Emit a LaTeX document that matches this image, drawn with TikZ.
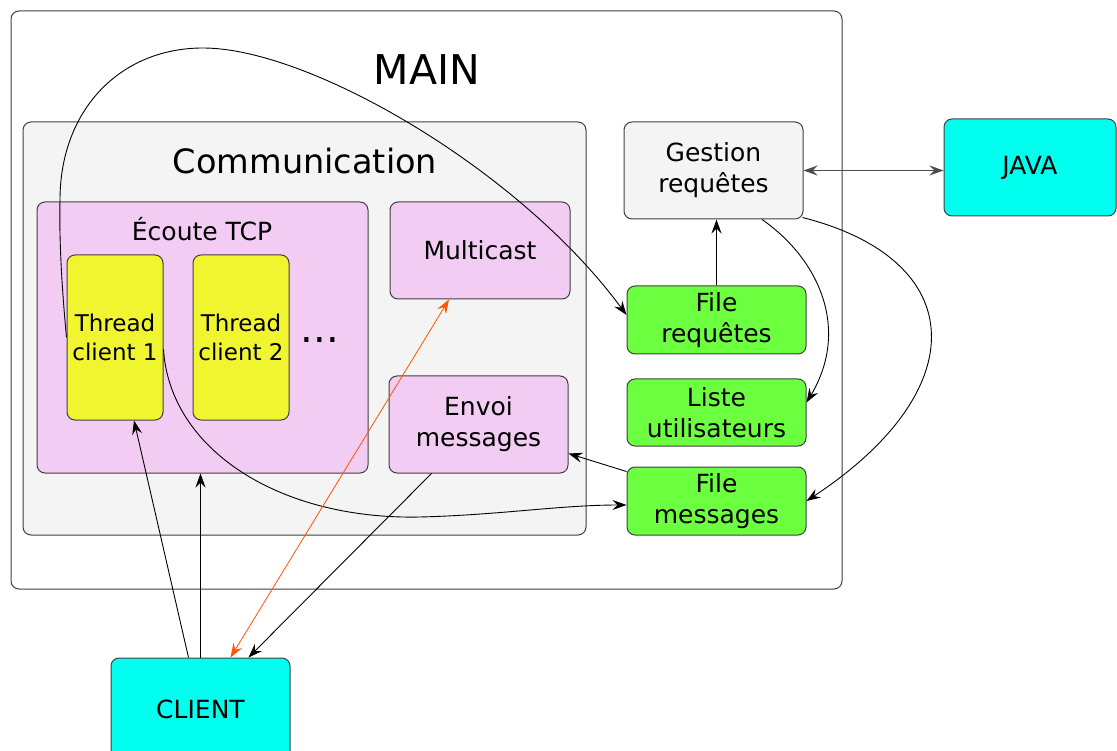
\documentclass[tikz,border=0pt]{standalone}
\usepackage{fontspec}
\setmainfont{DejaVu Sans}
\usetikzlibrary{arrows.meta,calc}

\definecolor{grisfond}{RGB}{244,244,244}
\definecolor{rose}{RGB}{243,204,243}
\definecolor{jaune}{RGB}{240,245,48}
\definecolor{vert}{RGB}{108,255,64}
\definecolor{cyan}{RGB}{0,255,238}
\definecolor{orange}{RGB}{255,85,0}

\tikzset{
  bloc/.style={draw=black!75, line width=1pt, rounded corners=8pt, inner sep=0pt,
    align=center, font=\fontsize{25}{31}\selectfont},
  titre/.style={inner sep=0pt, font=\fontsize{#1}{#1}\selectfont},
  fleche/.style={-{Stealth[length=14pt,width=10pt,inset=5pt]}, line width=0.9pt},
  double fleche/.style={{Stealth[length=14pt,width=10pt,inset=5pt]}-{Stealth[length=14pt,width=10pt,inset=5pt]}, line width=0.9pt}
}

\begin{document}
\begin{tikzpicture}[x=1pt,y=-1pt]

% ---------- Cadre ----------
\useasboundingbox (0,0) rectangle (1117,751);
\clip (0,0) rectangle (1117,751);

% ---------- Conteneurs ----------
\node[bloc, fill=white, minimum width=831, minimum height=578] (main) at (426.5,300) {};
\node[titre=41] (lmain) at (427,70) {MAIN};

\node[bloc, fill=grisfond, minimum width=563, minimum height=413] (comm) at (304.5,328.5) {};
\node[titre=33.5] (lcomm) at (305,161) {Communication};

\node[bloc, fill=rose, minimum width=331, minimum height=271] (tcp) at (202.5,337.5) {};
\node[titre=25] (ltcp) at (202,229) {Écoute TCP};

% ---------- Threads ----------
\node[bloc, fill=jaune, minimum width=96, minimum height=165, font=\fontsize{23}{29}\selectfont] (t1) at (115,337.5) {Thread\\client 1};
\node[bloc, fill=jaune, minimum width=96, minimum height=165, font=\fontsize{23}{29}\selectfont] (t2) at (241,337.5) {Thread\\client 2};
\node[titre=40] (dots) at (320,340) {...};

% ---------- Modules ----------
\node[bloc, fill=rose, minimum width=180, minimum height=97] (mcast) at (480,250.5) {Multicast};
\node[bloc, fill=rose, minimum width=179, minimum height=97] (envoi) at (478.5,424.5) {Envoi\\messages};

\node[bloc, fill=grisfond, minimum width=179, minimum height=97] (gest) at (713.5,170.5) {Gestion\\requêtes};
\node[bloc, fill=vert, minimum width=179, minimum height=68] (freq) at (716.5,320) {File\\requêtes};
\node[bloc, fill=vert, minimum width=179, minimum height=67] (liste) at (716.5,412.5) {Liste\\utilisateurs};
\node[bloc, fill=vert, minimum width=179, minimum height=68] (fmsg) at (716.5,501) {File\\messages};

% ---------- Externes ----------
\node[bloc, fill=cyan, minimum width=172, minimum height=97] (java) at (1030,167.5) {JAVA};
\node[bloc, fill=cyan, minimum width=179, minimum height=102] (client) at (200.5,709) {CLIENT};

% ---------- Liaisons ----------
\draw[double fleche, draw=black!70, line width=1.3pt] (gest.east) -- (gest.east -| java.west);
\draw[fleche] (freq.north) -- (freq.north |- gest.south);
\draw[fleche] ([xshift=48.5pt]gest.south) .. controls (820,260) and (850,330) .. ([yshift=10pt]liste.east);
\draw[fleche] ([xshift=-1pt,yshift=2pt]gest.south east) .. controls (970,260) and (975,390) .. (fmsg.east);
\draw[fleche] ([yshift=-5pt]fmsg.north west) -- ([yshift=20pt]envoi.south east);

% thread -> files
\draw[fleche] (t1.west) .. controls (62,290) and (59,240) .. (60,200)
  .. controls (60,110) and (120,48) .. (203,48)
  .. controls (310,48) and (520,170) .. ([yshift=5pt]freq.west);
\draw[fleche] ([yshift=-12pt]t1.east) .. controls (170,450) and (280,520) .. (420,517)
  .. controls (500,515) and (560,505) .. ([yshift=-4pt]fmsg.west);

% client
\draw[fleche] ([xshift=-12pt]client.north) -- ([xshift=19pt]t1.south);
\draw[fleche] (client.north) -- (client.north |- tcp.south);
\draw[fleche] ([xshift=-47pt]envoi.south) -- ([xshift=48pt]client.north);
\draw[double fleche, draw=orange, line width=0.8pt] ([xshift=-31pt]mcast.south) -- ([xshift=30pt]client.north);

\end{tikzpicture}
\end{document}
